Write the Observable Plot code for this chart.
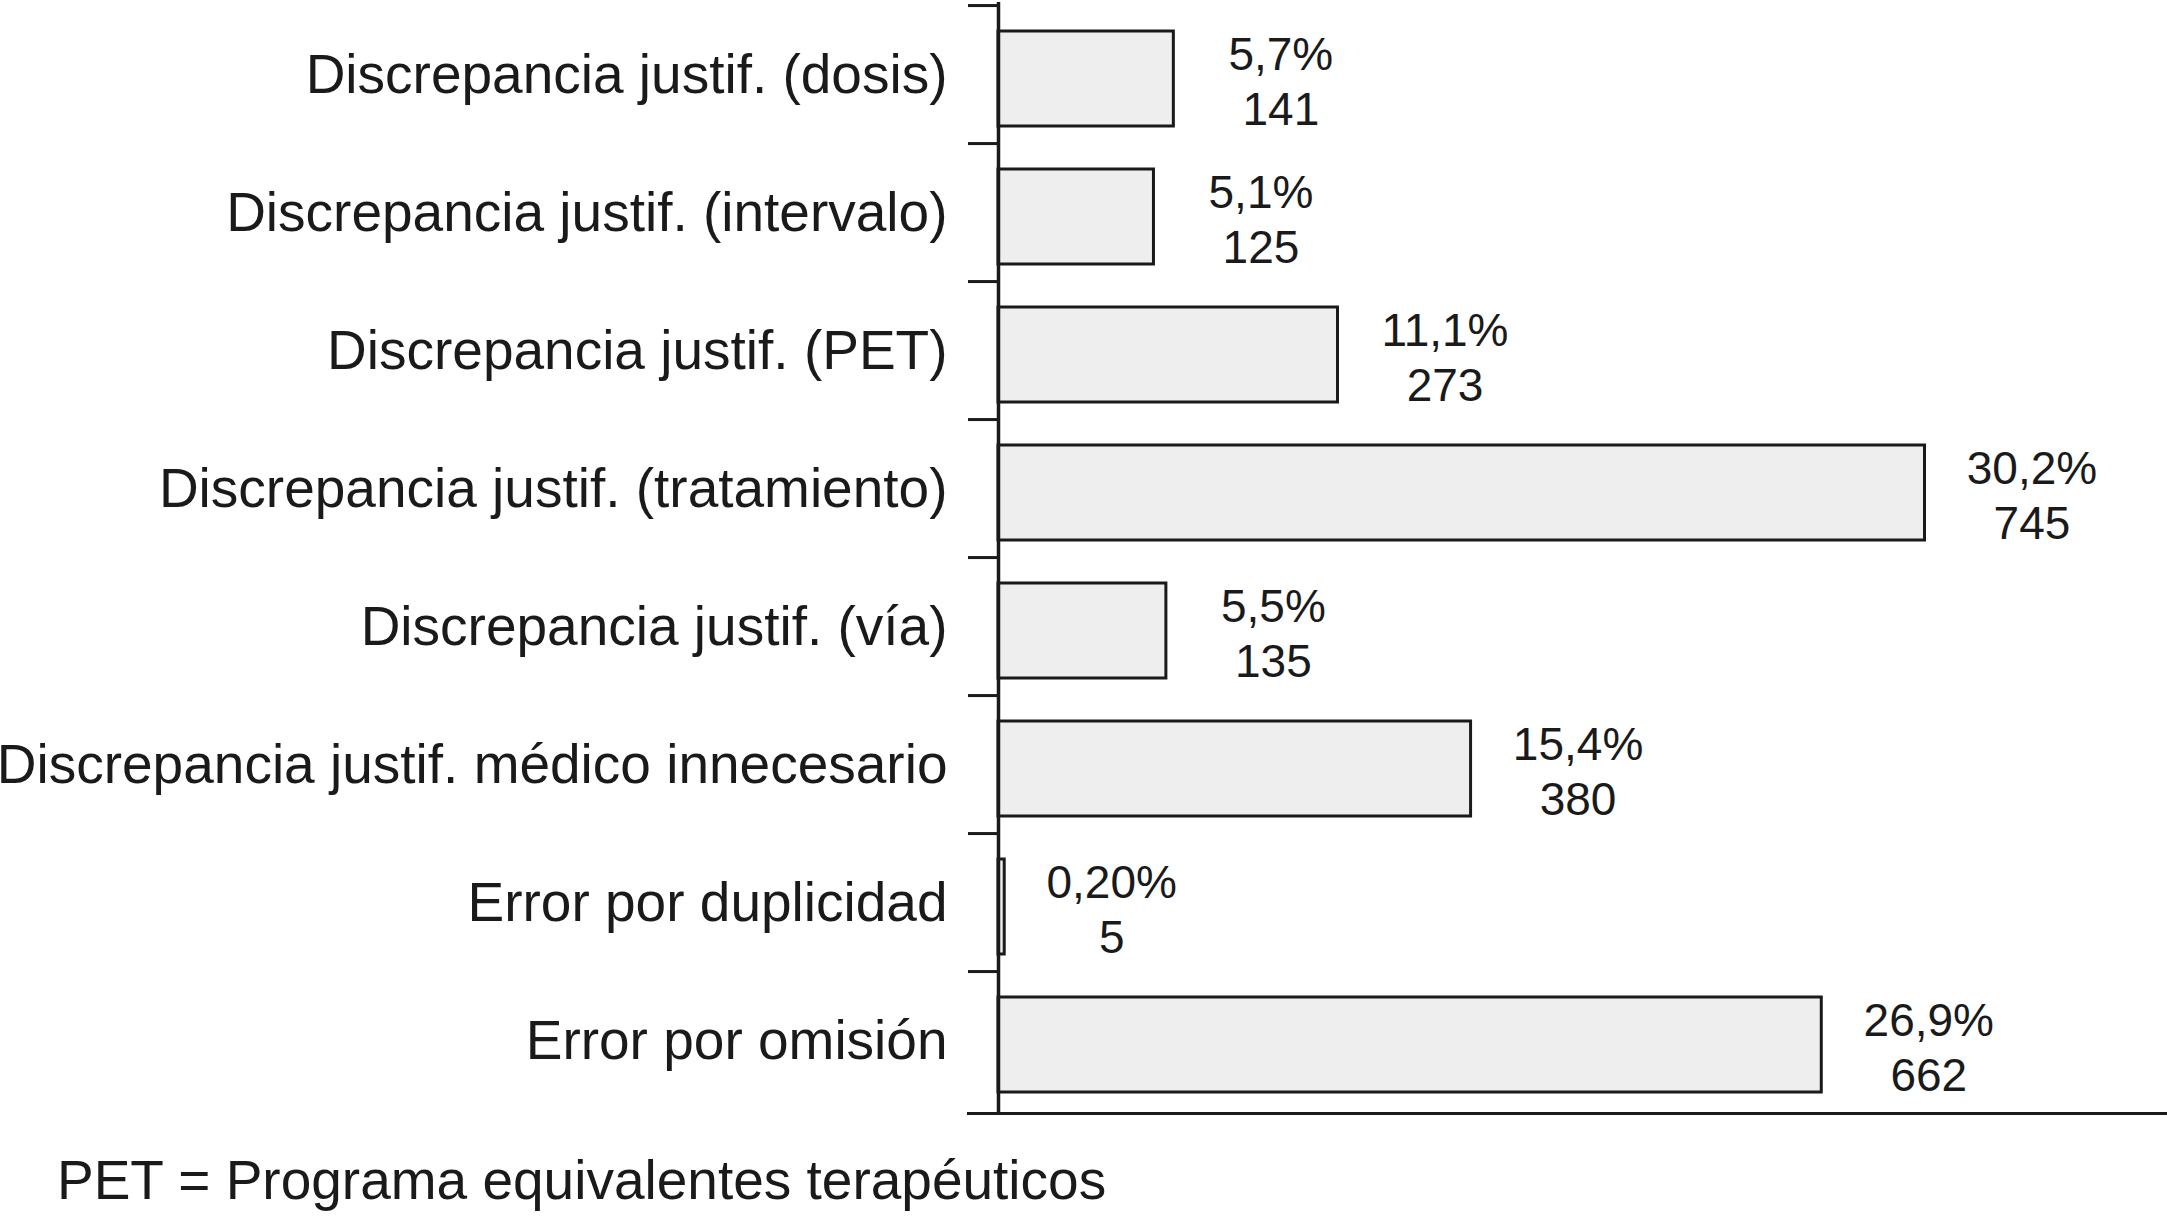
<!DOCTYPE html>
<html>
<head>
<meta charset="utf-8">
<script src="https://cdn.jsdelivr.net/npm/d3@7"></script>
<script src="https://cdn.jsdelivr.net/npm/@observablehq/plot@0.6"></script>
<style>
  html, body { margin: 0; padding: 0; background: #fff; }
  #chart svg { display: block; }
  #caption {
    font-family: "Liberation Sans", Arial, sans-serif;
    font-size: 55px;
    line-height: 62px;
    color: #1a1a1a;
    margin: 19px 0 0 57px;
    white-space: nowrap;
  }
</style>
</head>
<body>
<div id="chart"></div>
<div id="caption">PET = Programa equivalentes terapéuticos</div>
<script>
const categories = [
  "Discrepancia justif. (dosis)",
  "Discrepancia justif. (intervalo)",
  "Discrepancia justif. (PET)",
  "Discrepancia justif. (tratamiento)",
  "Discrepancia justif. (vía)",
  "Discrepancia justif. médico innecesario",
  "Error por duplicidad",
  "Error por omisión"
];
const counts = [141, 125, 273, 745, 135, 380, 5, 662];
const percents = ["5,7%", "5,1%", "11,1%", "30,2%", "5,5%", "15,4%", "0,20%", "26,9%"];

const data = categories.map((c, i) => ({category: c, count: counts[i], pct: percents[i]}));

const W = 2167, H = 1130;
const mTop = 2, mBottom = 17;
const step = (H - mTop - mBottom) / categories.length;
const ink = "#1a1a1a";
const font = "'Liberation Sans', Arial, sans-serif";

const chart = Plot.plot({
  width: W,
  height: H,
  marginLeft: 998,
  marginRight: 0,
  marginTop: mTop,
  marginBottom: mBottom,
  style: {fontFamily: font, color: ink, background: "#fff", overflow: "visible"},
  x: {domain: [0, 940], axis: null},
  y: {domain: categories, paddingInner: 0.31, paddingOuter: 0.155, axis: null},
  marks: [
    Plot.barX(data, {y: "category", x: "count", dy: 4, fill: "#eeeeee", stroke: ink, strokeWidth: 3}),
    Plot.ruleX([0], {stroke: ink, strokeWidth: 3.5}),
    Plot.frame({anchor: "bottom", insetLeft: -30, stroke: ink, strokeWidth: 3}),
    Plot.axisY({text: null, label: null, tickSize: 30, dy: -step / 2, stroke: ink, strokeWidth: 3}),
    Plot.axisY({label: null, tickSize: 0, tickPadding: 51, fontSize: 55, fill: ink}),
    Plot.text(data, {
      y: "category", x: "count",
      text: d => d.pct + "\n" + d.count,
      dx: 107, dy: 5, textAnchor: "middle", lineAnchor: "middle", lineHeight: 1.2,
      fontSize: 46, fill: ink
    })
  ]
});
document.getElementById("chart").appendChild(chart);
</script>
</body>
</html>
